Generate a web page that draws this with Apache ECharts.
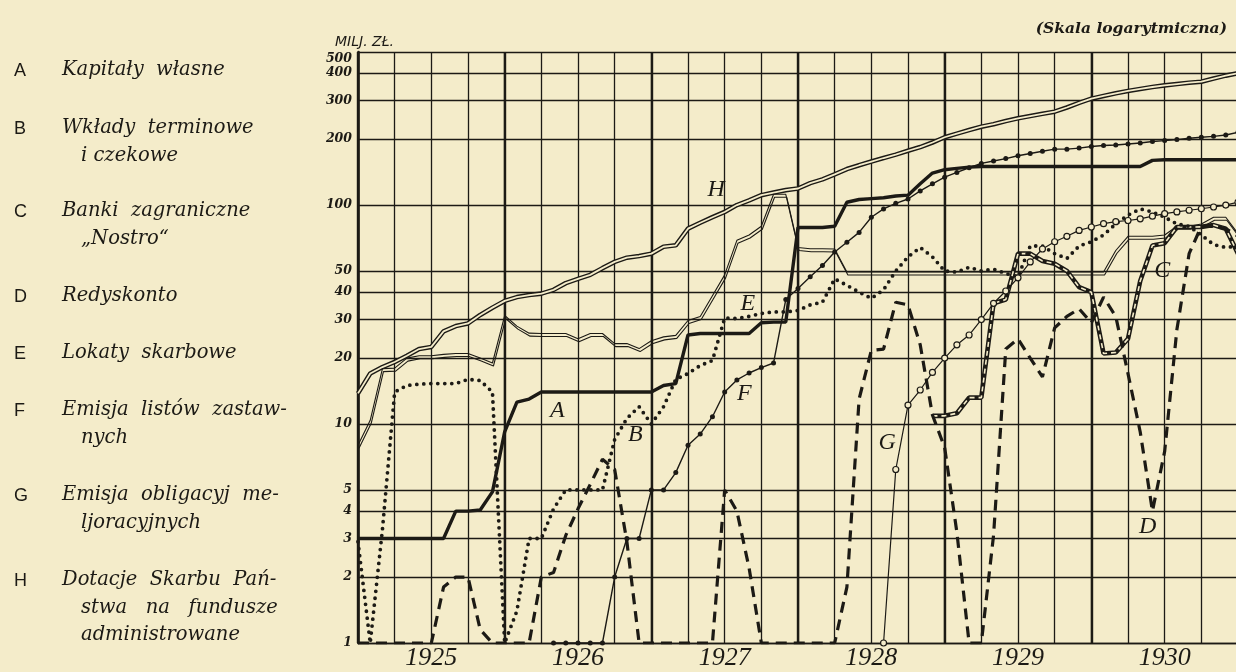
<!DOCTYPE html>
<html>
<head>
<meta charset="utf-8">
<script src="https://cdn.jsdelivr.net/npm/echarts@6.0.0/dist/echarts.min.js"></script>
<style>
html, body { margin: 0; padding: 0; background: #f4ecca; }
#chart { width: 1236px; height: 672px; }
</style>
</head>
<body>
<div id="chart"></div>
<script>
// monthly readings, Jan 1925 .. Jan 1931 (73 points), in mln zł
const years = ['1925', '1926', '1927', '1928', '1929', '1930'];
const yTicks = [1, 2, 3, 4, 5, 10, 20, 30, 40, 50, 100, 200, 300, 400, 500];

// A Kapitały własne
const A = [3,3,3,3,3,3,3,3, 4,4,4.05,4.9, 9.2,12.6,13,14, 14,14,14,14,14,14,14,14,14,
  15,15.3, 25.5,25.9,25.9,25.9,25.9,25.9, 29,29.2,29.2, 79,79,79,80,
  103,106,107,108,110,111,125,140, 145,147,149,150,150,150,150,150,150,150,150,150,150,150,150,150,150,
  160,161,161,161,161,161,161,161];
// B Wkłady terminowe i czekowe
const B = [2.9,1,3.3,14,15,15.2,15.3,15.3,15.3,16,
  15.8,14,1,1.4,3,3,4.1,5,5,5,
  5,8.5,10.6,12,10,12,16,17,18.5,19.5,
  30.5,30.3,31,32,32.5,32.5,33,35,36,46,
  43,40,37.5,41,50,58,64,58,50,49.4,
  52,50,51,48.7,47,65,65,60,57,65,
  68,73,82,90,96,93,88,82,80,73,
  66,64,65];
// C Banki zagraniczne "Nostro"
const C = [null,null,null,null,null,null,null,null,null,null,
  null,null,null,null,null,null,null,null,null,null,
  null,null,null,null,null,null,null,null,null,null,
  null,null,null,null,null,null,null,null,null,null,
  null,null,null,null,null,null,null,10.9,10.9,11.2,
  13.2,13.2,35.6,37,60,60,55.5,54,50,42.2,
  40,21,21.2,24.5,45,65.4,67,79.4,79.4,79.5,
  81,78,60];
// D Redyskonto
const D = [1,1,1,1,1,1,1,1.8,2,2,
  1.15,1,1,1,1,2,2.1,3.1,4.1,5.3,
  6.9,6.2,2.9,1,1,1,1,1,1,1,
  5,4,2.2,1,1,1,1,1,1,1,
  1.8,13,21.7,22,36,35,23,11,7.8,3.2,
  1,1,3.1,22,24.5,20,16.4,27.5,31,33.6,
  29,38,31,17,9.2,4,7.5,27,60,80,
  80,78,72];
// E Lokaty skarbowe
const E = [8,10.4,17.9,18,20,20.5,20.5,20.8,21,21,
  20,19,31.3,28,26,25.9,25.9,25.9,24.5,25.9,
  25.9,23.3,23.3,22.1,24,25,25.4,29.7,31,38.5,
  48,69,73,80,112,112,64,63.2,63.2,63,
  49.5,49.5,49.5,49.5,49.5,49.5,49.5,49.5,49.5,49.5,
  49.5,49.5,49.5,49.5,49.5,49.5,49.5,49.5,49.5,49.5,
  49.5,49.5,62,72,72,72,73,80,80,82,
  88,88,74];
// F Emisja listów zastawnych
const F = [null,null,null,null,null,null,null,null,null,null,
  null,null,null,null,null,null,1,1,1,1,
  1,2,3,3,5,5,6,8,9,10.8,
  14,15.9,17.1,18.1,19,37,41.6,47,53,61,
  67.6,75,88,96,101.8,106.6,116,125,134,141,
  148,155,159,163,168,172,176,180,180,182,
  185,187,188,190,192,195,197,199,202,204,
  206,209,215];
// G Emisja obligacyj meljoracyjnych
const G = [null,null,null,null,null,null,null,null,null,null,
  null,null,null,null,null,null,null,null,null,null,
  null,null,null,null,null,null,null,null,null,null,
  null,null,null,null,null,null,null,null,null,null,
  null,null,null,1,6.2,12.2,14.3,17.2,20,23,
  25.5,30,35.6,40.5,46.5,55,63,68,72,76.6,
  79.4,82.2,84,85,86.5,89,91.3,93,94.7,96.2,
  98,100,103];
// H Dotacje Skarbu Państwa na fundusze administrowane
const H = [13.8,17,18.2,19.2,20.5,22,22.5,26.5,28,28.8,
  31.5,34,36.5,38,38.8,39.4,41,44,46,48,
  51.5,55,57.5,58.5,60,64.5,65.5,78,83,88,
  93,100,105,111,114,117,119,126,131,138,
  146,152,158,164,170,177,184,193,204,212,
  220,228,234,242,249,255,261,267,279,293,
  306,315,324,332,339,346,352,357,362,366,
  378,390,400];

// letters written on the curves: [letter, month, value]
const notes = [['H', 29.3, 117], ['E', 31.9, 35.6], ['A', 16.3, 11.5], ['B', 22.7, 8.9],
  ['F', 31.6, 13.8], ['G', 43.3, 8.2], ['C', 65.8, 50], ['D', 64.6, 3.4]];

const legendRows = [
  ['A', ['Kapitały  własne'], 72],
  ['B', ['Wkłady  terminowe', 'i czekowe'], 130],
  ['C', ['Banki  zagraniczne', '„Nostro“'], 213],
  ['D', ['Redyskonto'], 298],
  ['E', ['Lokaty  skarbowe'], 355],
  ['F', ['Emisja  listów  zastaw-', 'nych'], 412],
  ['G', ['Emisja  obligacyj  me-', 'ljoracyjnych'], 497],
  ['H', ['Dotacje  Skarbu  Pań-', 'stwa   na   fundusze', 'administrowane'], 582]
];

const ink = '#1c1a15';
const paper = '#f4ecca';

function pts(arr) {
  const out = [];
  arr.forEach((v, i) => { if (v != null) out.push([i, v]); });
  return out;
}

function noteFor(letter) {
  const n = notes.find(x => x[0] === letter);
  return {
    symbol: 'circle', symbolSize: 1,
    itemStyle: { color: 'rgba(0,0,0,0)' },
    label: {
      show: true, position: 'inside', formatter: letter,
      color: ink, fontSize: 24, fontStyle: 'italic', fontFamily: 'Liberation Serif'
    },
    data: [{ coord: [n[1], n[2]] }]
  };
}

function line(data, lineStyle, extra) {
  return Object.assign({
    type: 'line', data: pts(data), symbol: 'none', silent: true,
    lineStyle: Object.assign({ color: ink }, lineStyle)
  }, extra || {});
}

const graphic = [];
legendRows.forEach(([letter, lines, y]) => {
  graphic.push({
    type: 'text', left: 14, top: y - 10,
    style: { text: letter, fill: ink, font: '18px "Liberation Sans"' }
  });
  lines.forEach((t, k) => {
    graphic.push({
      type: 'text', left: k === 0 ? 62 : 81, top: y - 12 + k * 27.5,
      style: { text: t, fill: ink, font: 'italic 19.5px "DejaVu Serif"' }
    });
  });
});
graphic.push({
  type: 'text', left: 335, top: 35,
  style: { text: 'MILJ. ZŁ.', fill: ink, font: 'italic 14px "DejaVu Sans"' }
});

const chart = echarts.init(document.getElementById('chart'));
chart.setOption({
  animation: false,
  backgroundColor: paper,
  title: {
    text: '(Skala logarytmiczna)', right: 4, top: 16,
    textStyle: { color: ink, fontSize: 15.5, fontStyle: 'italic', fontWeight: 'bold', fontFamily: 'DejaVu Serif' }
  },
  graphic: graphic,
  grid: { left: 358, top: 52, width: 880, height: 591, outerBoundsMode: 'none', containLabel: false },
  xAxis: [
    {
      type: 'value', min: 0, max: 72, interval: 3,
      axisLine: { show: true, lineStyle: { color: ink, width: 1.4 } },
      axisTick: { show: false },
      axisLabel: {
        margin: 2, color: ink, fontSize: 26, fontStyle: 'italic', fontFamily: 'Liberation Serif',
        formatter: v => (v % 12 === 6 ? years[(v - 6) / 12] : '')
      },
      splitLine: { show: true, lineStyle: { color: ink, width: 1.3 } }
    },
    {
      type: 'value', min: 0, max: 72, interval: 12, position: 'top',
      axisLine: { show: false }, axisTick: { show: false }, axisLabel: { show: false },
      splitLine: { show: true, lineStyle: { color: ink, width: 2.4 } }
    }
  ],
  yAxis: {
    type: 'log', logBase: 10, min: 1, max: 500,
    axisLine: { show: true, lineStyle: { color: ink, width: 2.6 } },
    axisTick: { show: false, customValues: yTicks },
    axisLabel: {
      customValues: yTicks, margin: 6, color: ink, verticalAlignMaxLabel: 'top',
      fontSize: 12.5, fontStyle: 'italic', fontWeight: 'bold', fontFamily: 'DejaVu Serif'
    },
    splitLine: { show: true, lineStyle: { color: ink, width: 1.3 } }
  },
  series: [
    line(H, { width: 4.6 }, { markPoint: noteFor('H') }),
    line(H, { width: 1.8, color: paper }),
    line(E, { width: 1.1, shadowColor: ink, shadowOffsetX: 1, shadowOffsetY: 3, shadowBlur: 0 }, { markPoint: noteFor('E') }),
    line(C, { width: 4.6 }, { markPoint: noteFor('C') }),
    line(C, { width: 1.6, color: paper, type: [5, 4] }),
    line(A, { width: 3.4 }, { markPoint: noteFor('A') }),
    line(B, { width: 3.8, type: [0, 7], cap: 'round' }, { markPoint: noteFor('B') }),
    line(D, { width: 3.2, type: [11, 7] }, { markPoint: noteFor('D') }),
    line(F, { width: 1.4 }, {
      symbol: 'circle', symbolSize: 5, showAllSymbol: true,
      itemStyle: { color: ink }, markPoint: noteFor('F')
    }),
    line(G, { width: 1.2 }, {
      symbol: 'circle', symbolSize: 6, showAllSymbol: true,
      itemStyle: { color: paper, borderColor: ink, borderWidth: 1.2 }, markPoint: noteFor('G')
    })
  ]
});
</script>
</body>
</html>
